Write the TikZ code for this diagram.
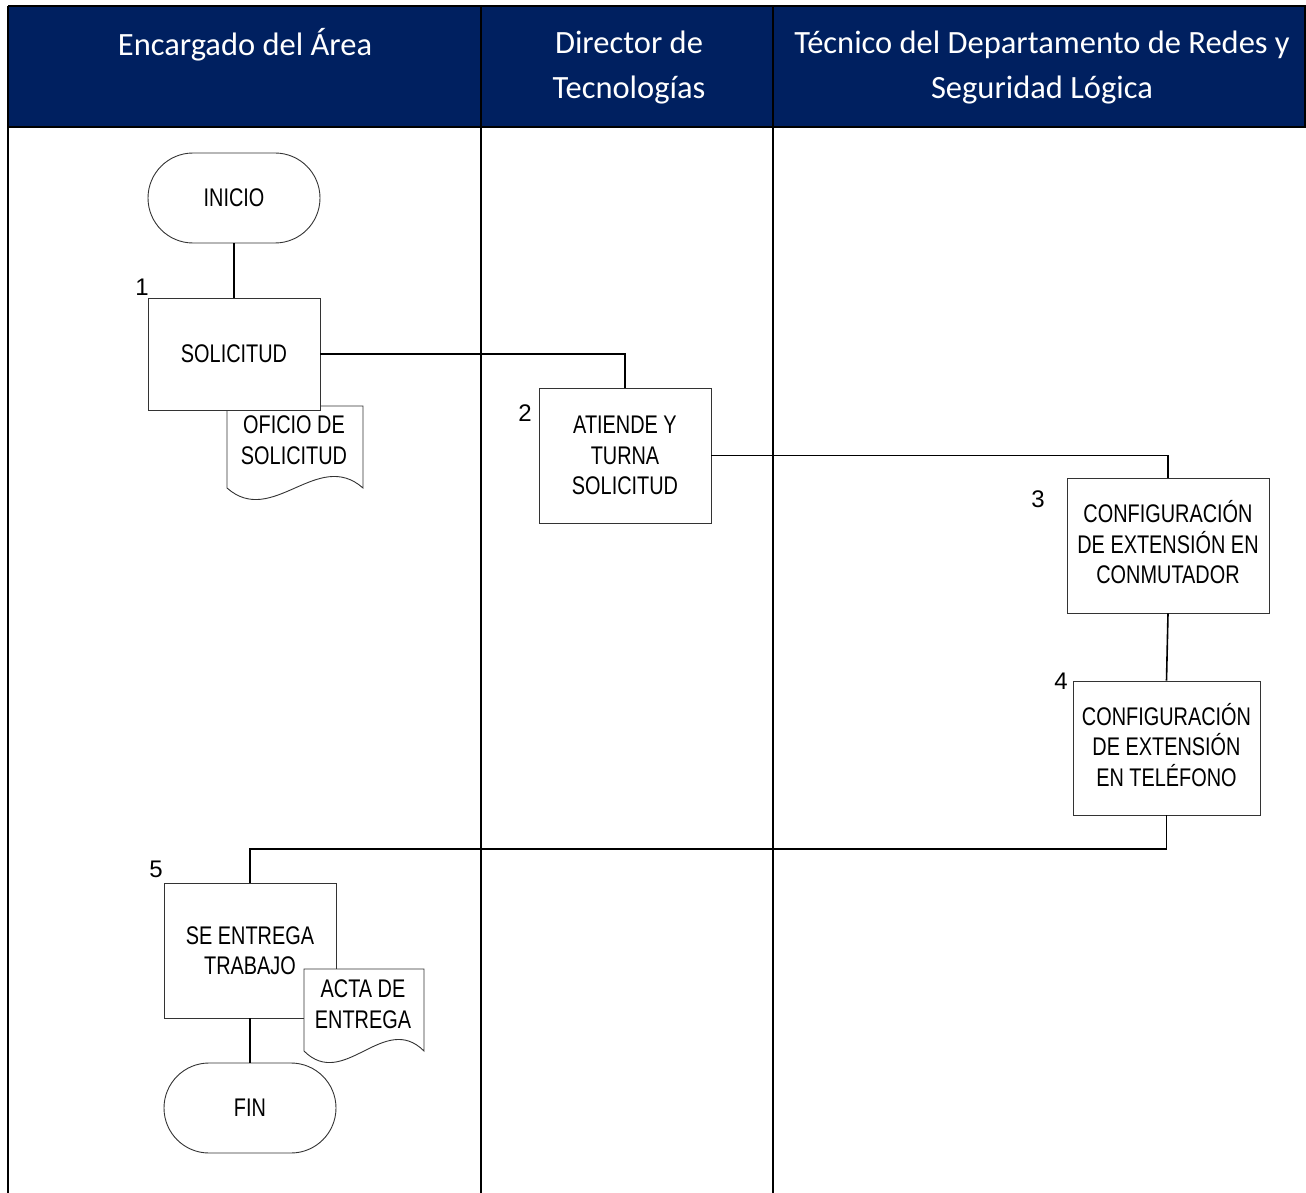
\documentclass[tikz,border=0pt]{standalone}
\usepackage{fontspec}
\setmainfont{Liberation Sans}
\newfontfamily\hdrfont{Carlito}
\newfontfamily\narrowfont[FakeStretch=0.78]{Liberation Sans}
\usetikzlibrary{shapes.misc}
\definecolor{navy}{HTML}{002060}
\begin{document}
\begin{tikzpicture}[x=1pt,y=-1pt,
  lane/.style={line width=1.6pt,black},
  hdr/.style={text=white,font=\hdrfont\fontsize{32.5}{45}\selectfont,align=center,inner sep=0pt},
  procbox/.style={draw=black!80,line width=0.9pt,fill=white,align=center,inner sep=0pt,
     font=\narrowfont\fontsize{25.5}{30.5}\selectfont},
  boxtext/.style={align=center,inner sep=0pt,font=\narrowfont\fontsize{25.5}{30.5}\selectfont},
  termbox/.style={rounded rectangle,draw=black!80,line width=0.9pt,fill=white,inner sep=0pt,
     minimum width=172pt,minimum height=90pt,font=\narrowfont\fontsize{25.5}{30.5}\selectfont},
  docshape/.style={draw=black!80,line width=0.9pt,fill=white},
  conn/.style={line width=1.6pt,black},
  num/.style={font=\fontsize{24}{28}\selectfont,inner sep=0pt}
]
\useasboundingbox (0,0) rectangle (1306,1193);
% header
\fill[navy] (8,6) rectangle (1306,127);
\draw[lane] (8,6) -- (1306,6);
\draw[lane] (8,127) -- (1306,127);
\draw[lane] (8,6) -- (8,1193);
\draw[lane] (481,6) -- (481,1193);
\draw[lane] (773,6) -- (773,1193);
\draw[lane] (1305,6) -- (1305,127);
\node[hdr] (h1) at (245,45) {Encargado del Área};
\node[hdr] (h2) at (629,68) {Director de\\Tecnologías};
\node[hdr] (h3) at (1042,68) {Técnico del Departamento de Redes y\\Seguridad Lógica};

% terminators and processes
\node[termbox] (ini) at (234,198) {INICIO};

% document 1 (behind SOLICITUD)
\draw[docshape] (227,406) -- (363,406) -- (363,488)
   .. controls (317.7,448) and (272.3,528) .. (227,488) -- cycle;
\node[boxtext] (d1) at (294,440) {OFICIO DE\\SOLICITUD};

\node[procbox,minimum width=172pt,minimum height=112pt] (s1) at (234,354) {SOLICITUD};
\node[num] (n1) at (142,287) {1};

\node[procbox,minimum width=172pt,minimum height=135pt] (s2) at (625,455.5) {ATIENDE Y\\TURNA\\SOLICITUD};
\node[num] (n2) at (525,413) {2};

\node[procbox,minimum width=202pt,minimum height=135pt] (s3) at (1168,545.5) {};
\node[boxtext] (t3) at (1168,542.5) {CONFIGURACIÓN\\DE EXTENSIÓN EN\\CONMUTADOR};
\node[num] (n3) at (1038,499) {3};

\node[procbox,minimum width=187pt,minimum height=134pt] (s4) at (1166.5,748) {};
\node[boxtext] (t4) at (1166.5,745) {CONFIGURACIÓN\\DE EXTENSIÓN\\EN TELÉFONO};
\node[num] (n4) at (1061,681) {4};

\node[procbox,minimum width=172pt,minimum height=135pt] (s5) at (250,950.5) {SE ENTREGA\\TRABAJO};
\node[num] (n5) at (156,869) {5};

% document 2 (on top of box 5)
\draw[docshape] (304,969) -- (424,969) -- (424,1051)
   .. controls (384,1011) and (344,1091) .. (304,1051) -- cycle;
\node[boxtext] (d2) at (363,1004) {ACTA DE\\ENTREGA};

\node[termbox] (fin) at (250,1108) {FIN};

% connectors
\coordinate (j1) at (250,849);
\draw[conn] (ini.south) -- (s1.north);
\draw[conn] (s1.east) -| (s2.north);
\draw[conn] (s2.east) -| (s3.north);
\draw[conn] (s3.south) -- (s4.north);
\draw[conn] (s4.south) |- (j1) -- (s5.north);
\draw[conn] (s5.south) -- (fin.north);
\end{tikzpicture}
\end{document}
